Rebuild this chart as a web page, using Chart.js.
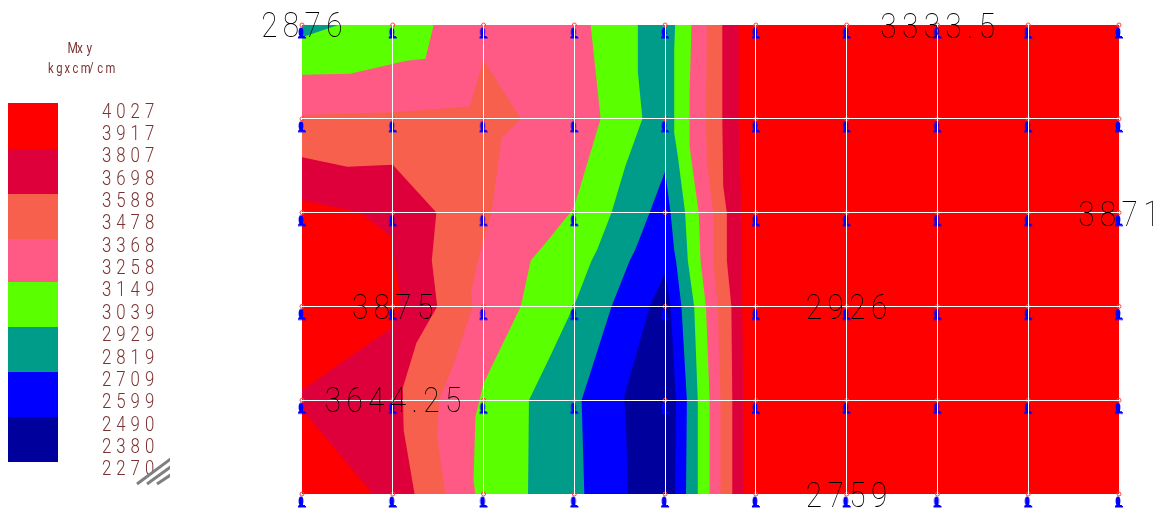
<!DOCTYPE html>
<html>
<head>
<meta charset="utf-8">
<title>Mxy</title>
<style>
  html, body { margin: 0; padding: 0; background: #fff; overflow: hidden; }
  canvas { display: block; }
</style>
<script src="https://cdn.jsdelivr.net/npm/chart.js@4"></script>
</head>
<body>
<canvas id="plate" width="1160" height="513"></canvas>
<script>
// Legend
const legendTitle = ['Mxy', 'kgxcm/cm'];
const legendLabels = ['4027', '3917', '3807', '3698', '3588', '3478', '3368', '3258', '3149', '3039', '2929', '2819', '2709', '2599', '2490', '2380', '2270'];
const bandColors = ['#ff0000', '#de003a', '#f7604d', '#ff5a85', '#5aff00', '#009c8a', '#0000ff', '#00009c'];

// Grid of the plate, in column / row units
const columns = [0, 1, 2, 3, 4, 5, 6, 7, 8, 9];
const rows = [0, 1, 2, 3, 4, 5];

// Contour regions, [column, row], each holds everything below its level
const full4027 = [[0, 0], [9, 0], [9, 5], [0, 5]];
const below3807 = [[0, 1.87], [0.64, 2], [1, 2.27], [1.02, 2.51], [1.08, 2.86], [1.08, 3], [1, 3.22], [0, 3.89], [0, 4.1], [0.78, 5], [4.87, 5], [4.86, 4], [4.85, 3], [4.84, 2], [4.81, 1], [4.81, 0], [0, 0]];
const below3588 = [[0, 1.41], [0.5, 1.51], [1, 1.49], [1.48, 2], [1.43, 2.51], [1.49, 3], [1.26, 3.39], [1.11, 3.87], [1.12, 4.32], [1.24, 5], [4.74, 5], [4.74, 4], [4.73, 3], [4.68, 2.51], [4.68, 2], [4.64, 1.72], [4.63, 1], [4.63, 0], [0, 0]];
const below3368 = [[0, 0.96], [1, 0.93], [1.85, 0.87], [2, 0.37], [2.41, 1], [2.2, 1.2], [2.09, 1.99], [1.94, 2.51], [1.86, 2.86], [1.88, 3], [1.66, 3.64], [1.51, 4], [1.49, 4.39], [1.58, 5], [4.61, 5], [4.61, 4], [4.58, 3], [4.53, 2.51], [4.53, 2], [4.46, 1.47], [4.45, 1.01], [4.46, 0], [0, 0]];
const below3149Corner = [[0, 0], [1.45, 0], [1.36, 0.36], [1.15, 0.38], [0.53, 0.52], [0, 0.53]];
const below3149 = [[3.18, 0], [3.29, 1], [3.01, 1.9], [2.98, 1.97], [2.73, 2.27], [2.52, 2.51], [2.41, 3], [2, 3.82], [1.91, 4.18], [1.89, 4.85], [1.91, 5], [4.49, 5], [4.49, 4], [4.45, 3], [4.39, 2.51], [4.37, 2], [4.27, 1.3], [4.27, 0.7], [4.29, 0]];
const below2929Corner = [[0, 0], [0.4, 0], [0, 0.13]];
const below2929 = [[3.7, 0], [3.7, 0.5], [3.75, 1], [3.56, 1.51], [3.41, 2], [3.25, 2.4], [3.19, 2.51], [3.01, 2.96], [2.73, 3.54], [2.5, 4], [2.49, 5], [4.36, 5], [4.36, 4], [4.32, 3], [4.25, 2.51], [4.22, 2], [4.14, 1.4], [4.1, 1.15], [4.1, 0.27], [4.11, 0]];
const below2709 = [[4, 1.56], [3.83, 2], [3.67, 2.4], [3.61, 2.51], [3.41, 3], [3.08, 4], [3.11, 5], [4.23, 5], [4.24, 4], [4.18, 3], [4.12, 2.51], [4.1, 2.4], [4.06, 2]];
const below2490 = [[4, 2.64], [3.83, 3], [3.55, 3.96], [3.57, 4.28], [3.59, 5], [4.11, 5], [4.12, 4], [4.06, 3]];

// Values written on the plate
const noteTexts = ['2876', '3333.5', '3871', '3875', '2926', '3644.25', '2759'];
const noteColumns = [-0.45, 6.37, 8.55, 0.55, 5.55, 0.25, 5.55];
const noteRows = [0.13, 0.14, 2.14, 3.13, 3.13, 4.13, 5.14];

const toPoints = list => list.map(p => ({ x: p[0], y: p[1] }));

// One dataset per region, painted from the outside in
function region(list, color, order) {
    return {
        type: 'scatter',
        data: toPoints(list),
        showLine: true,
        borderWidth: 0,
        borderColor: color,
        backgroundColor: color,
        fill: 'shape',
        pointRadius: 0,
        tension: 0,
        order: order
    };
}

// Support symbol under each node, the node sits at the centre of this little canvas
function makeSupport() {
    const c = document.createElement('canvas');
    c.width = 16;
    c.height = 32;
    const g = c.getContext('2d');
    g.fillStyle = '#0000ff';
    g.beginPath();
    g.ellipse(7, 23, 2.4, 4.5, 0, 0, Math.PI * 2);
    g.fill();
    g.fillRect(7, 26, 2, 2);
    g.fillRect(4.5, 27, 3, 1);
    g.fillRect(9, 27, 2, 1);
    g.fillRect(4, 28, 8, 1.5);
    return c;
}

const nodes = [];
rows.forEach(r => columns.forEach(c => nodes.push({ x: c, y: r })));

const regions = [
    [full4027, 0], [below3807, 1], [below3588, 2], [below3368, 3],
    [below3149Corner, 4], [below3149, 4], [below2929Corner, 5], [below2929, 5],
    [below2709, 6], [below2490, 7]
];

const datasets = regions.map((r, i) => region(r[0], bandColors[r[1]], 100 - i));

datasets.push({
    type: 'scatter', data: nodes, pointStyle: makeSupport(),
    clip: false, order: 2
});
datasets.push({
    type: 'scatter', data: nodes, pointStyle: 'circle', pointRadius: 2,
    pointBorderColor: '#ff4040', pointBackgroundColor: 'rgba(0,0,0,0)', pointBorderWidth: 1,
    clip: false, order: 1
});

// Squeezed, spaced out text like the plotter font of the original
function plotText(ctx, text, x, y, size, squeeze, advance, color, weight) {
    ctx.save();
    ctx.font = weight + ' ' + size + 'px Roboto';
    ctx.fillStyle = color;
    ctx.textBaseline = 'alphabetic';
    ctx.textAlign = 'left';
    ctx.translate(x, y);
    ctx.scale(squeeze, 1);
    let cx = 0;
    for (const ch of text) {
        ctx.fillText(ch, cx, 0);
        cx += (ch === '.' ? advance * 0.54 : advance) / squeeze;
    }
    ctx.restore();
}

const platePlugin = {
    id: 'platePlugin',
    afterDraw(chart) {
        const ctx = chart.ctx;
        const xs = chart.scales.x;
        const ys = chart.scales.y;

        noteTexts.forEach((t, i) => {
            plotText(ctx, t, xs.getPixelForValue(noteColumns[i]), ys.getPixelForValue(noteRows[i]),
                35, 0.85, 21.7, '#000', 100);
        });

        // Colour bar
        const barEdges = [103, 149, 194, 239, 282, 327, 372, 417, 462];
        bandColors.forEach((col, i) => {
            ctx.fillStyle = col;
            ctx.fillRect(8, barEdges[i], 50, barEdges[i + 1] - barEdges[i]);
        });

        // Legend text
        const brown = '#7a3232';
        plotText(ctx, legendTitle[0], 67.5, 53, 14, 0.85, 9.5, brown, 400);
        plotText(ctx, legendTitle[1], 48, 73, 14, 0.8, 8.2, brown, 400);
        legendLabels.forEach((t, i) => {
            plotText(ctx, t, 102, 117.5 + i * 22.37, 21, 0.8, 14.3, brown, 300);
        });

        // Hatch mark next to the last label
        ctx.save();
        ctx.beginPath();
        ctx.rect(130, 458, 40, 28);
        ctx.clip();
        ctx.strokeStyle = '#808080';
        ctx.lineWidth = 3;
        [[137, 484, 172, 458], [147, 484, 172, 466], [157, 484, 172, 474]].forEach(s => {
            ctx.beginPath();
            ctx.moveTo(s[0], s[1]);
            ctx.lineTo(s[2], s[3]);
            ctx.stroke();
        });
        ctx.restore();
    }
};

const gridOptions = last => ({
    color: c => (c.tick.value === 0 || c.tick.value === last) ? 'rgba(255,255,255,0)' : '#fff',
    lineWidth: 1,
    z: 1,
    drawTicks: false
});

new Chart(document.getElementById('plate'), {
    type: 'scatter',
    data: { datasets: datasets },
    options: {
        responsive: false,
        animation: false,
        layout: { padding: { left: 302, right: 41, top: 25, bottom: 19 } },
        plugins: { legend: { display: false }, tooltip: { enabled: false } },
        scales: {
            x: {
                type: 'linear', min: 0, max: 9,
                ticks: { display: false, stepSize: 1 },
                border: { display: false },
                grid: gridOptions(9)
            },
            y: {
                type: 'linear', min: 0, max: 5, reverse: true,
                ticks: { display: false, stepSize: 1 },
                border: { display: false },
                grid: gridOptions(5)
            }
        }
    },
    plugins: [platePlugin]
});
</script>
</body>
</html>
